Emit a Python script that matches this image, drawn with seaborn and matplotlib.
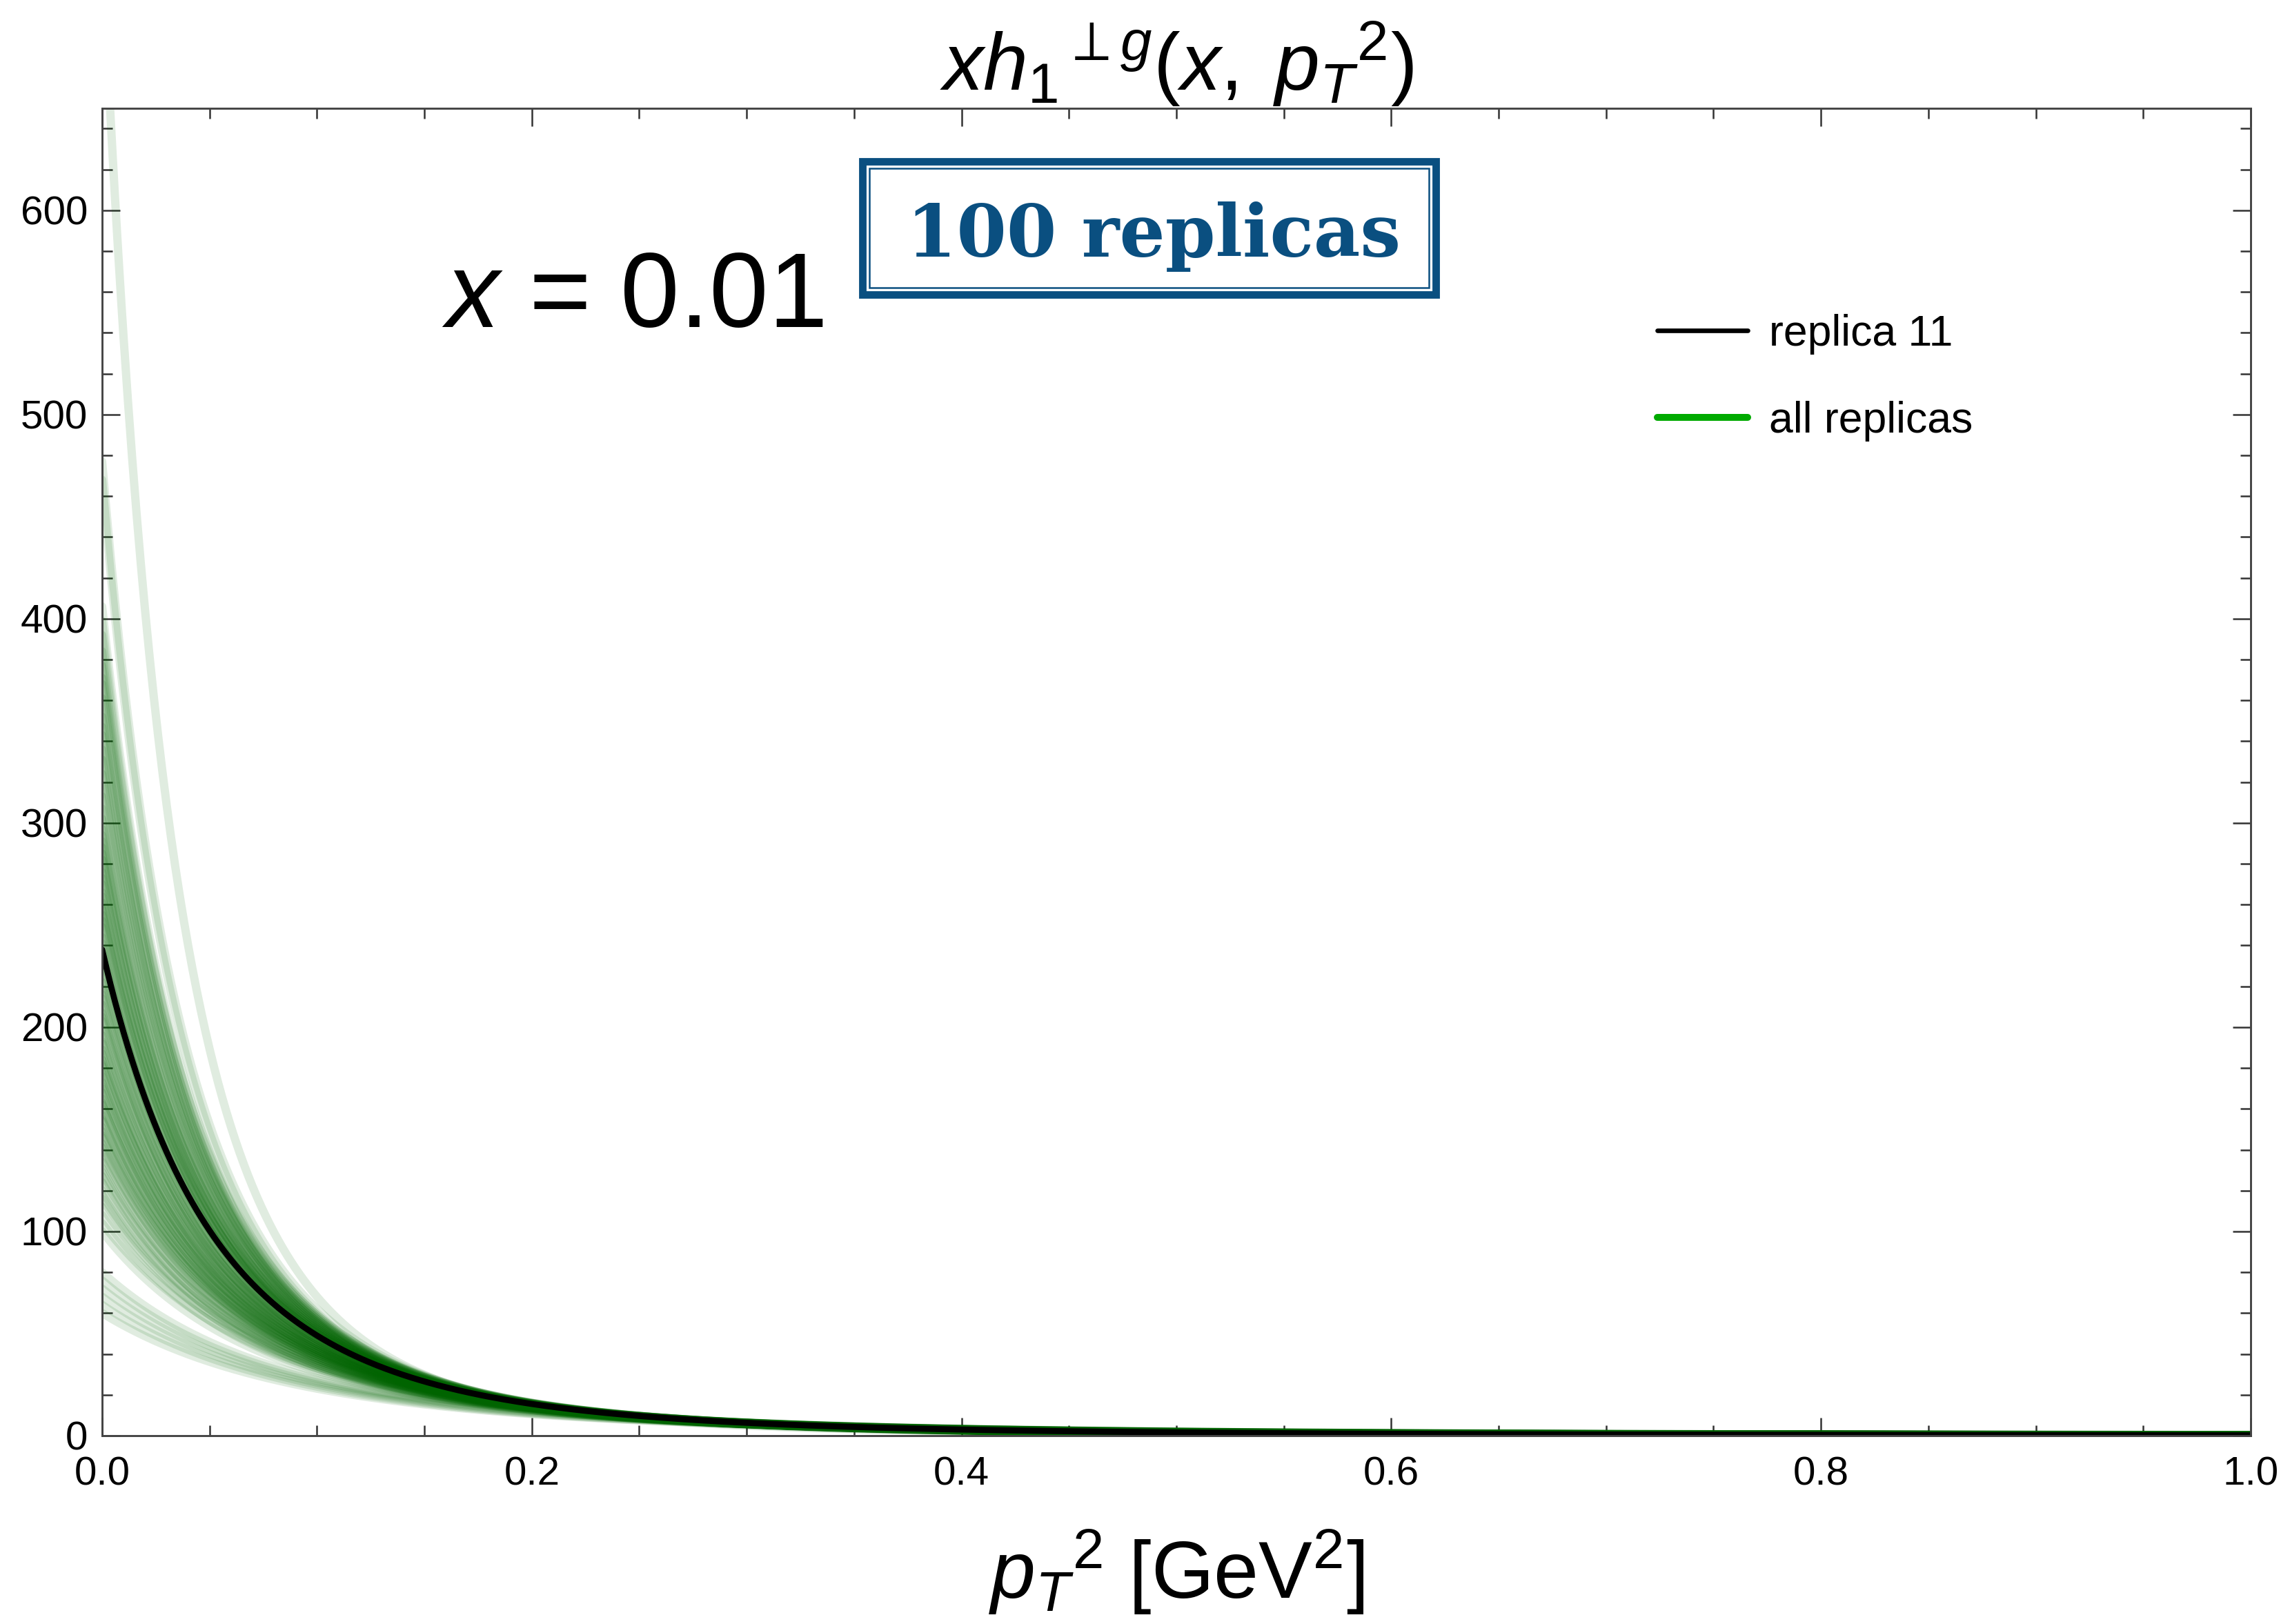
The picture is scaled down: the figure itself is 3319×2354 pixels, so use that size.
import numpy as np
import pandas as pd
import matplotlib
matplotlib.use("Agg")
import matplotlib.pyplot as plt
import seaborn as sns
from matplotlib.lines import Line2D
from matplotlib.patches import Rectangle
from matplotlib.ticker import MultipleLocator, FormatStrFormatter

# replica curves:
# value at pT^2 = 0 and value at pT^2 = 0.1 for each of the 100 replicas
intercepts = [730, 477, 468, 406, 399, 392, 384, 377, 371, 368,
              238, 361, 352, 347, 343, 336, 331, 324, 318, 313,
              307, 302, 297, 291, 288, 282, 276, 273, 266, 261,
              258, 252, 249, 244, 235, 231, 227, 222, 219, 214,
              211, 207, 203, 199, 196, 193, 189, 187, 184, 181,
              178, 176, 173, 170, 168, 165, 162, 160, 157, 154,
              151, 149, 146, 143, 141, 137, 134, 131, 127, 124,
              120, 116, 112, 108, 104, 100, 80, 76, 72, 68,
              64, 60, 294, 285, 270, 255, 241, 229, 216, 205,
              192, 182, 171, 163, 155, 147, 139, 129, 118, 264]
values_at_01 = [68, 62, 60, 59, 58, 59, 57, 58, 56, 57,
                49, 56, 55, 57, 55, 54, 56, 54, 53, 55,
                52, 54, 52, 53, 51, 52, 50, 52, 50, 51,
                49, 50, 48, 49, 47, 48, 46, 47, 45, 46,
                44, 46, 44, 45, 43, 44, 42, 44, 42, 43,
                41, 42, 41, 40, 42, 40, 41, 39, 40, 38,
                40, 38, 39, 37, 38, 36, 37, 35, 36, 34,
                35, 33, 34, 32, 33, 31, 28, 27, 26, 25,
                24, 23, 53, 51, 50, 50, 47, 47, 45, 45,
                43, 42, 41, 39, 39, 38, 37, 35, 34, 51]
replica_ids = list(range(1, 101))
highlight = 11
fall_power = 4.27  # common power of the fall-off

pt2 = np.linspace(0.0, 1.0, 1001)

rows = []
for rid, a, b in zip(replica_ids, intercepts, values_at_01):
    m = 0.1 / ((a / b) ** (1.0 / fall_power) - 1.0)
    vals = a * (1.0 + pt2 / m) ** (-fall_power)
    rows.append(pd.DataFrame({"replica": rid, "pT2": pt2, "val": vals}))
df = pd.concat(rows, ignore_index=True)

sns.set_theme(style="ticks")
plt.rcParams["font.family"] = ["Liberation Sans", "DejaVu Sans"]
plt.rcParams["mathtext.fontset"] = "custom"
plt.rcParams["mathtext.rm"] = "Liberation Sans"
plt.rcParams["mathtext.it"] = "Liberation Sans:italic"
plt.rcParams["mathtext.bf"] = "Liberation Sans:bold"
plt.rcParams["text.color"] = "black"
plt.rcParams["axes.labelcolor"] = "black"
plt.rcParams["xtick.labelcolor"] = "black"
plt.rcParams["ytick.labelcolor"] = "black"

fig = plt.figure(figsize=(3319 / 300, 2354 / 300), dpi=300)
ax = fig.add_axes([0.0446, 0.116, 0.9382, 0.8174])

sns.lineplot(data=df, x="pT2", y="val", units="replica", estimator=None,
             color="darkgreen", alpha=0.12, lw=2.9, legend=False, ax=ax)
sns.lineplot(data=df[df["replica"] == highlight], x="pT2", y="val",
             color="black", lw=2.1, legend=False, ax=ax)

ax.set_xlim(0, 1)
ax.set_ylim(0, 650)
ax.xaxis.set_major_locator(MultipleLocator(0.2))
ax.xaxis.set_minor_locator(MultipleLocator(0.05))
ax.yaxis.set_major_locator(MultipleLocator(100))
ax.yaxis.set_minor_locator(MultipleLocator(20))
ax.xaxis.set_major_formatter(FormatStrFormatter("%.1f"))
ax.tick_params(which="both", direction="in", top=True, right=True,
               color="#333333", width=0.6, labelsize=14, pad=5)
ax.tick_params(axis="x", which="major", pad=7)
ax.tick_params(which="major", length=6.2)
ax.tick_params(which="minor", length=3.6)
for sp in ax.spines.values():
    sp.set_color("#444444")
    sp.set_linewidth(0.7)

ax.set_title(r"$xh_{\mathit{1}}{}^{\perp g}(x,\;p_T{}^2)$", fontsize=28, pad=1)
ax.set_xlabel(r"$p_T{}^2$ [GeV$^2$]", fontsize=28, labelpad=12)
ax.set_ylabel("")

ax.text(0.158, 0.835, r"$x$ = 0.01", transform=ax.transAxes,
        fontsize=37, ha="left", va="baseline")

# stamp-like box
blue = "#0a4f80"
ax.add_patch(Rectangle((0.3540, 0.8598), 0.2667, 0.1000, transform=ax.transAxes,
                       fill=False, ec=blue, lw=2.6, clip_on=False, zorder=5))
ax.add_patch(Rectangle((0.3572, 0.8650), 0.2603, 0.0896, transform=ax.transAxes,
                       fill=False, ec=blue, lw=0.6, clip_on=False, zorder=5))
ax.text(0.4894, 0.888, "100 replicas", transform=ax.transAxes, color=blue,
        fontsize=25, fontweight="bold", family="DejaVu Serif",
        ha="center", va="baseline", zorder=6)

handles = [Line2D([], [], color="black", lw=1.6),
           Line2D([], [], color="#00aa00", lw=2.4)]
ax.legend(handles, ["replica 11", "all replicas"], loc="upper left",
          bbox_to_anchor=(0.7238, 0.845), frameon=False, fontsize=15,
          handlelength=2.1, handletextpad=0.5, labelspacing=1.07,
          borderpad=0, borderaxespad=0)

fig.savefig("out.png", dpi=300)
